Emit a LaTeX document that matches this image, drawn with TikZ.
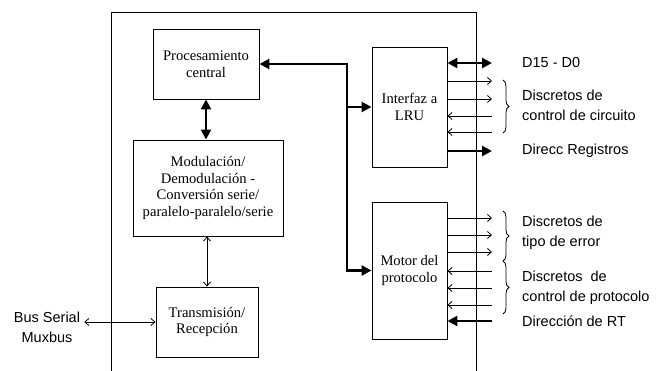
\documentclass[tikz,border=0pt]{standalone}
\usepackage{fontspec}
\setmainfont{Liberation Serif}
\setsansfont{Liberation Sans}
\usetikzlibrary{arrows.meta,decorations.pathreplacing}
\tikzset{
  blk/.style={draw,line width=0.9pt,minimum width=#1,inner sep=2pt,align=center,
    font=\fontsize{14.6}{16.8}\selectfont},
  thk/.style={line width=2.6pt},
  thn/.style={line width=0.8pt},
  ttip/.tip={Triangle[length=10pt,width=10pt]},
  stip/.tip={Straight Barb[length=4pt,width=7pt,line width=0.8pt]},
  lbl/.style={anchor=west,align=left,inner sep=0pt,font=\sffamily\fontsize{14.5}{20.5}\selectfont},
  brc/.style={decorate,decoration={brace,amplitude=6pt},line width=0.8pt},
}
\begin{document}
\begin{tikzpicture}[x=1pt,y=-1pt]
\useasboundingbox (0,0) rectangle (665,371);
% outer frame (open at bottom)
\draw[line width=0.9pt] (111,371) -- (111,12) -- (476,12) -- (476,371);
% blocks
\node[blk=106pt,minimum height=70pt] (proc) at (206,64) {Procesamiento\\central};
\node[blk=150pt,minimum height=96pt] (mod) at (208,188) {Modulación/\\Demodulación -\\Conversión serie/\\paralelo-paralelo/serie};
\node[blk=102pt,minimum height=70pt] (trans) at (207,322) {Transmisión/\\Recepción};
\node[blk=75pt,minimum height=120pt] (lru) at (409.5,107) {Interfaz a\\LRU};
\node[blk=75pt,minimum height=137pt] (motor) at (409.5,270.5) {Motor del\\protocolo};
% bus label
\node[align=center,inner sep=4pt,font=\sffamily\fontsize{14.5}{20}\selectfont] (bus) at (47,327) {Bus Serial\\Muxbus};
% internal connections
\coordinate (j) at (347,64);
\draw[thk,ttip-ttip] (proc.east) -- (j) |- (motor.west);
\draw[thk,-ttip] (j |- lru.west) -- (lru.west);
\draw[thk,ttip-ttip] (proc.south) -- (proc.south |- mod.north);
\draw[thn,stip-stip] (mod.south -| trans.north) -- (trans.north);
\draw[thn,stip-stip] (bus.east |- trans.west) -- (trans.west);
% outer end points
\coordinate (d15) at (492,63);
\coordinate (c1) at (492,81);
\coordinate (c2) at (492,99);
\coordinate (c3) at (492,116);
\coordinate (c4) at (492,132);
\coordinate (dr) at (492,151);
\coordinate (e1) at (492,218);
\coordinate (e2) at (492,235);
\coordinate (e3) at (492,252);
\coordinate (p1) at (492,271);
\coordinate (p2) at (492,288);
\coordinate (p3) at (492,305);
\coordinate (rt) at (492,321);
% LRU signals
\draw[thk,ttip-ttip] (lru.east |- d15) -- (d15);
\draw[thn,-stip] (lru.east |- c1) -- (c1);
\draw[thn,-stip] (lru.east |- c2) -- (c2);
\draw[thn,stip-] (lru.east |- c3) -- (c3);
\draw[thn,stip-] (lru.east |- c4) -- (c4);
\draw[thk,-ttip] (lru.east |- dr) -- (dr);
% motor signals
\draw[thn,-stip] (motor.east |- e1) -- (e1);
\draw[thn,-stip] (motor.east |- e2) -- (e2);
\draw[thn,-stip] (motor.east |- e3) -- (e3);
\draw[thn,stip-] (motor.east |- p1) -- (p1);
\draw[thn,stip-] (motor.east |- p2) -- (p2);
\draw[thn,stip-] (motor.east |- p3) -- (p3);
\draw[thk,ttip-] (motor.east |- rt) -- (rt);
% braces
\coordinate (b1t) at (503,80);
\coordinate (b1b) at (503,133);
\coordinate (b2t) at (503,211);
\coordinate (b2b) at (503,261);
\coordinate (b3b) at (503,314);
\draw[brc] (b1t) -- (b1b);
\draw[brc] (b2t) -- (b2b);
\draw[brc] (b2b) -- (b3b);
% labels
\node[lbl] (l1) at (522,63) {D15 - D0};
\node[lbl] (l2) at (522,105.5) {Discretos de\\control de circuito};
\node[lbl] (l3) at (522,151) {Direcc Registros};
\node[lbl] (l4) at (522,233) {Discretos de\\tipo de error};
\node[lbl] (l5) at (522,288) {Discretos\ \ de\\control de protocolo};
\node[lbl] (l6) at (522,321) {Dirección de RT};
\end{tikzpicture}
\end{document}
